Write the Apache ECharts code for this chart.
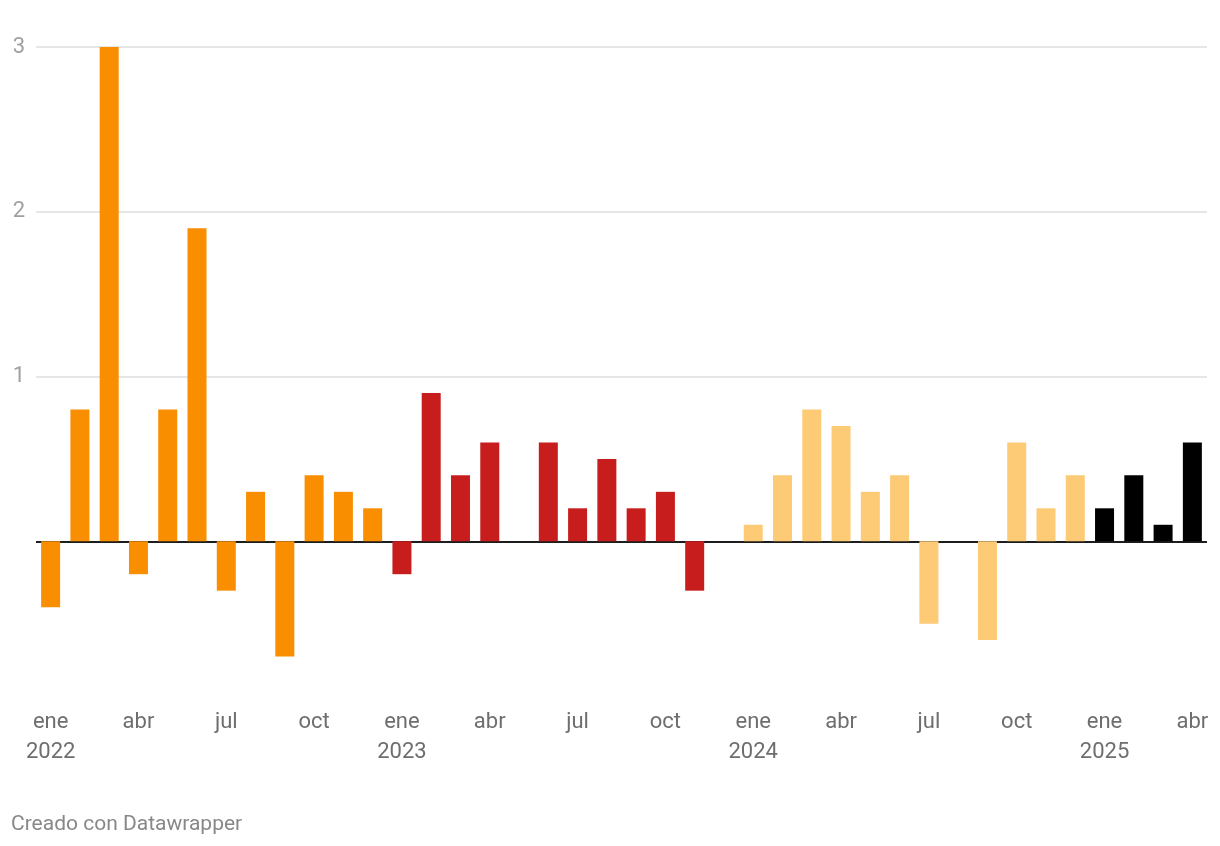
<!DOCTYPE html>
<html>
<head>
<meta charset="utf-8">
<script src="https://cdn.jsdelivr.net/npm/echarts@6/dist/echarts.min.js"></script>
<style>
html,body{margin:0;padding:0;background:#fff;}
#c{width:1220px;height:846px;}
</style>
</head>
<body>
<div id="c"></div>
<script>
const monthNames = ['ene','feb','mar','abr','may','jun','jul','ago','sep','oct','nov','dic'];
const years = [2022, 2023, 2024, 2025];
const values2022 = [-0.4, 0.8, 3.0, -0.2, 0.8, 1.9, -0.3, 0.3, -0.7, 0.4, 0.3, 0.2];
const values2023 = [-0.2, 0.9, 0.4, 0.6, 0, 0.6, 0.2, 0.5, 0.2, 0.3, -0.3, 0];
const values2024 = [0.1, 0.4, 0.8, 0.7, 0.3, 0.4, -0.5, 0, -0.6, 0.6, 0.2, 0.4];
const values2025 = [0.2, 0.4, 0.1, 0.6];
const yearColors = {2022: '#f98e00', 2023: '#c71e1d', 2024: '#fdca76', 2025: '#000000'};
const yTicks = [1, 2, 3];

const valuesByYear = {2022: values2022, 2023: values2023, 2024: values2024, 2025: values2025};
const categories = [];
const data = [];
years.forEach(y => {
  valuesByYear[y].forEach((v, i) => {
    categories.push(i === 0 ? monthNames[i] + '\n' + y : monthNames[i]);
    data.push({value: v, itemStyle: {color: yearColors[y]}});
  });
});

const chart = echarts.init(document.getElementById('c'));
chart.setOption({
  animation: false,
  backgroundColor: '#fff',
  title: {
    text: 'Creado con Datawrapper',
    left: 6, top: 809,
    textStyle: {fontFamily: 'Roboto', fontSize: 21, fontWeight: 'normal', color: '#888'}
  },
  grid: {left: 36, right: 13, top: 47, bottom: 140},
  xAxis: {
    type: 'category',
    data: categories,
    axisLine: {show: false},
    axisTick: {show: false},
    axisLabel: {
      interval: 2,
      margin: 1,
      fontFamily: 'Roboto',
      fontSize: 22,
      lineHeight: 30,
      color: '#6e6e6e'
    }
  },
  yAxis: {
    type: 'value',
    min: -1, max: 3, interval: 1,
    axisLine: {show: false},
    axisTick: {show: false},
    axisLabel: {
      margin: 11,
      padding: [4, 0, 0, 0],
      fontFamily: 'Roboto',
      fontSize: 22,
      color: '#a0a0a0',
      formatter: v => yTicks.indexOf(v) >= 0 ? String(v) : ''
    },
    splitLine: {
      show: true,
      lineStyle: {width: 2, color: ['rgba(0,0,0,0)', '#1d1d1d', '#e6e6e6', '#e6e6e6', '#e6e6e6']}
    }
  },
  series: [{
    type: 'bar',
    data: data,
    barWidth: 19
  }]
});
</script>
</body>
</html>
